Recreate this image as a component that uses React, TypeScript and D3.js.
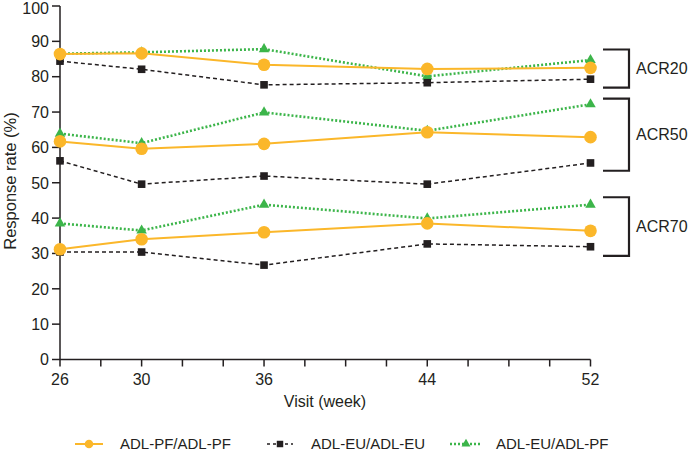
import React from "react";
import * as d3 from "d3";

const weeks = [26, 30, 36, 44, 52];
const minorTicks = d3.range(26, 53, 2);
const yTicks = [0, 10, 20, 30, 40, 50, 60, 70, 80, 90, 100];

const seriesNames = ["ADL-PF/ADL-PF", "ADL-EU/ADL-EU", "ADL-EU/ADL-PF"];

const pfpfAcr20 = [86.4, 86.6, 83.4, 82.2, 82.5];
const eueuAcr20 = [84.4, 82.1, 77.7, 78.3, 79.3];
const eupfAcr20 = [86.5, 86.9, 87.8, 80.1, 84.7];
const pfpfAcr50 = [61.7, 59.6, 61.0, 64.3, 62.9];
const eueuAcr50 = [56.2, 49.6, 51.9, 49.6, 55.6];
const eupfAcr50 = [63.9, 61.2, 69.9, 64.7, 72.2];
const pfpfAcr70 = [31.2, 34.0, 36.0, 38.5, 36.4];
const eueuAcr70 = [30.4, 30.4, 26.7, 32.7, 31.9];
const eupfAcr70 = [38.5, 36.5, 43.8, 39.9, 43.8];

const groupNames = ["ACR20", "ACR50", "ACR70"];
const groupTop = [87.7, 73.8, 45.9];
const groupBottom = [76.9, 53.4, 29.3];

const FONT = "'Liberation Sans', Arial, Helvetica, sans-serif";
const INK = "#231f20";
const ORANGE = "#fbb72a";
const GREEN = "#3cb54a";
const BLACK = "#231f20";

export default function App() {
  const x = d3.scaleLinear().domain([26, 52]).range([60, 590.5]);
  const y = d3.scaleLinear().domain([0, 100]).range([359.5, 6]);

  const line = d3
    .line<[number, number]>()
    .x((d) => x(d[0]))
    .y((d) => y(d[1]));

  const styles = [
    { color: ORANGE, dash: undefined as string | undefined, width: 2, marker: "circle" },
    { color: BLACK, dash: "4,3", width: 1.5, marker: "square" },
    { color: GREEN, dash: "2,2", width: 2.6, marker: "triangle" },
  ];

  const groups = [
    [pfpfAcr20, eueuAcr20, eupfAcr20],
    [pfpfAcr50, eueuAcr50, eupfAcr50],
    [pfpfAcr70, eueuAcr70, eupfAcr70],
  ];

  const marker = (
    kind: string,
    cx: number,
    cy: number,
    color: string,
    key: string,
    scale = 1
  ) => {
    if (kind === "circle") return <circle key={key} cx={cx} cy={cy} r={6.3 * scale} fill={color} />;
    if (kind === "square") {
      const h = 3.8 * scale;
      return <rect key={key} x={cx - h} y={cy - h} width={2 * h} height={2 * h} fill={color} />;
    }
    const tri = d3.symbol().type(d3.symbolTriangle).size(48 * scale * scale)() as string;
    return <path key={key} d={tri} transform={`translate(${cx},${cy})`} fill={color} />;
  };

  // drawing order: green, black, orange
  const order = [2, 1, 0];

  const legendItems = [
    { lx1: 75, lx2: 103, mx: 89, tx: 120 },
    { lx1: 267, lx2: 293, mx: 280, tx: 311 },
    { lx1: 450, lx2: 482, mx: 466, tx: 496 },
  ];
  const legendY = 444;

  return (
    <svg
      width={689}
      height={452}
      style={{ position: "absolute", left: 0, top: 0, background: "#fff" }}
      fontFamily={FONT}
    >
      {/* y axis */}
      <line x1={60} x2={60} y1={y(100)} y2={y(0)} stroke={INK} strokeWidth={1.5} />
      {yTicks.map((t) => (
        <g key={"yt" + t}>
          <line x1={52} x2={60} y1={y(t)} y2={y(t)} stroke={INK} strokeWidth={1.5} />
          <text x={49} y={y(t)} dy={t === 100 ? "0.52em" : "0.36em"} textAnchor="end" fontSize={16} fill={INK}>
            {t}
          </text>
        </g>
      ))}
      {/* x axis */}
      <line x1={x(26)} x2={x(52)} y1={y(0)} y2={y(0)} stroke={INK} strokeWidth={1.5} />
      {minorTicks.map((t) => (
        <line key={"xt" + t} x1={x(t)} x2={x(t)} y1={y(0)} y2={y(0) + 7} stroke={INK} strokeWidth={1.5} />
      ))}
      {weeks.map((w) => (
        <text key={"xl" + w} x={x(w)} y={385} textAnchor="middle" fontSize={16} fill={INK}>
          {w}
        </text>
      ))}
      <text x={325} y={407} textAnchor="middle" fontSize={16} fill={INK}>
        Visit (week)
      </text>
      <text
        transform={`translate(15.5,181) rotate(-90)`}
        textAnchor="middle"
        fontSize={16.5}
        fill={INK}
      >
        Response rate (%)
      </text>

      {/* lines */}
      {order.map((si) =>
        groups.map((g, gi) => (
          <path
            key={`l${si}-${gi}`}
            d={line(weeks.map((w, i) => [w, g[si][i]] as [number, number])) as string}
            fill="none"
            stroke={styles[si].color}
            strokeWidth={styles[si].width}
            strokeDasharray={styles[si].dash}
          />
        ))
      )}
      {/* markers */}
      {order.map((si) =>
        groups.map((g, gi) =>
          weeks.map((w, i) =>
            marker(styles[si].marker, x(w), y(g[si][i]), styles[si].color, `m${si}-${gi}-${i}`)
          )
        )
      )}

      {/* brackets */}
      {groupNames.map((name, gi) => {
        const t = y(groupTop[gi]);
        const b = y(groupBottom[gi]);
        return (
          <g key={name}>
            <path
              d={`M603,${t} H629 V${b} H603`}
              fill="none"
              stroke={INK}
              strokeWidth={2.2}
            />
            <text x={636} y={(t + b) / 2} dy="0.36em" fontSize={16} fill={INK}>
              {name}
            </text>
          </g>
        );
      })}

      {/* legend */}
      {legendItems.map((it, si) => (
        <g key={"lg" + si}>
          <line
            x1={it.lx1}
            x2={it.lx2}
            y1={legendY}
            y2={legendY}
            stroke={styles[si].color}
            strokeWidth={si === 0 ? 2 : styles[si].width * 0.9}
            strokeDasharray={si === 1 ? "3,3" : styles[si].dash}
          />
          {marker(styles[si].marker, it.mx, legendY, styles[si].color, "lm" + si, si === 0 ? 0.68 : 0.85)}
          <text x={it.tx} y={legendY} dy="0.36em" fontSize={15} fill={INK}>
            {seriesNames[si]}
          </text>
        </g>
      ))}
    </svg>
  );
}
